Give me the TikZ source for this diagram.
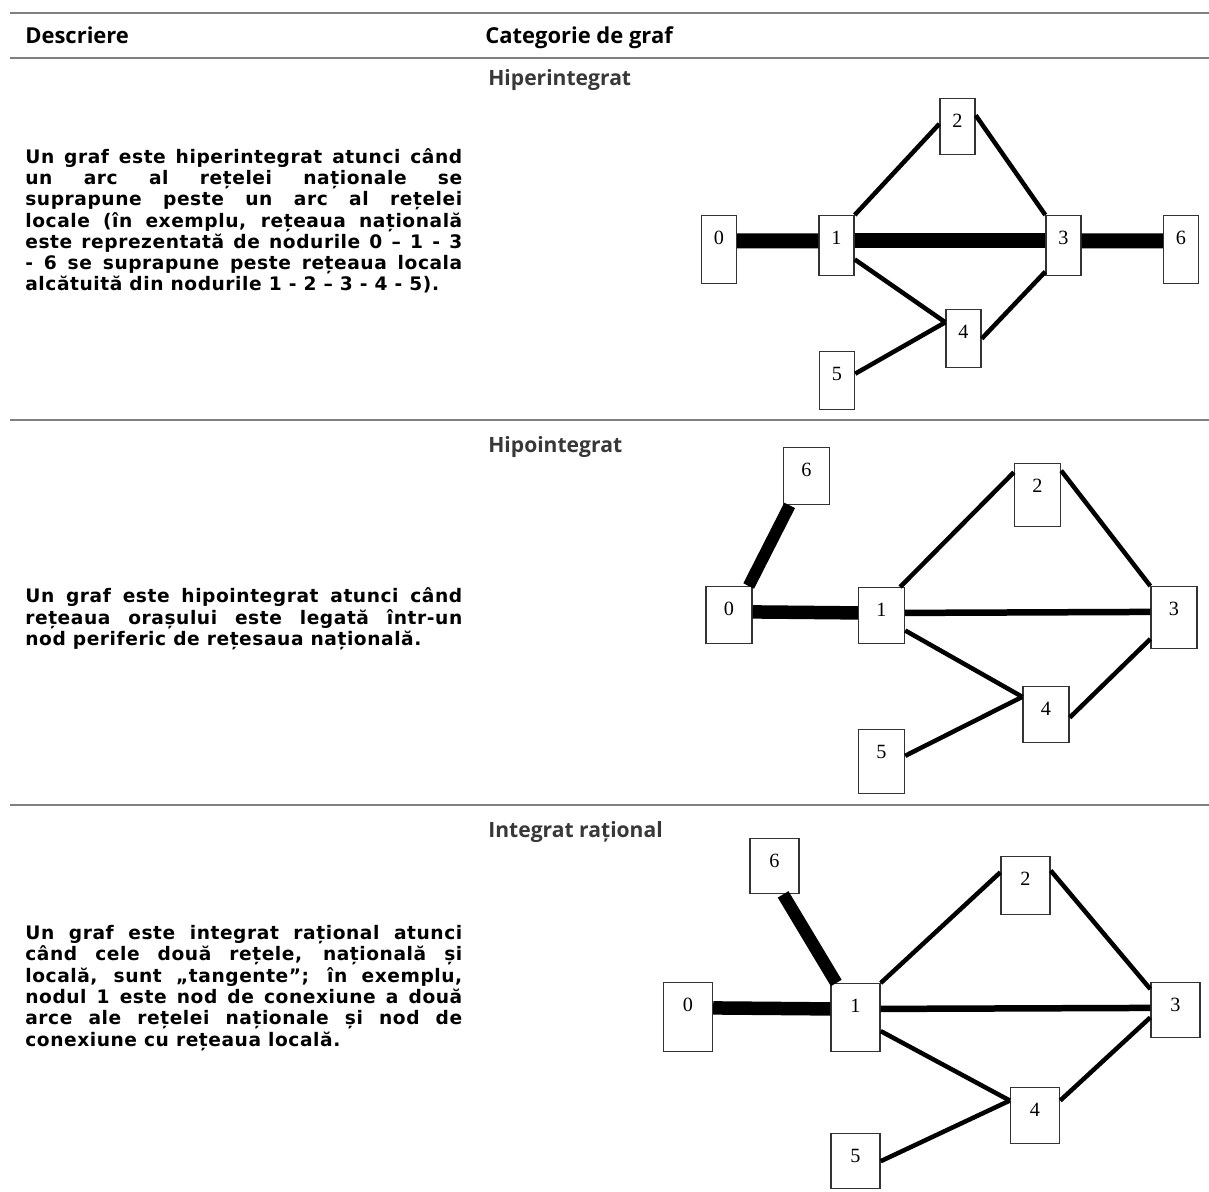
\documentclass[tikz,border=0pt]{standalone}
\usepackage{fontspec}
\newfontfamily\descfont{DejaVu Sans}[LetterSpace=3.0]
\newfontfamily\headfont{Open Sans}
\newfontfamily\numfont{Liberation Serif}
\tolerance=9999

\tikzset{
  rule/.style={draw=black!50, line width=0.055cm},
  colhead/.style={font=\headfont\bfseries\fontsize{12.5}{15}\selectfont, anchor=base west, inner sep=0pt},
  cattitle/.style={font=\headfont\bfseries\fontsize{12}{14}\selectfont, text=black!78, anchor=base west, inner sep=0pt},
  desc/.style={font=\descfont\bfseries\fontsize{10.6}{12.1}\selectfont, text width=8.74cm, align=justify, anchor=west, inner sep=0pt},
  vbox/.style={draw=black!80, line width=0.8pt, fill=white, inner sep=0pt, anchor=north, text height=0.58cm, font=\numfont\fontsize{11.5}{13}\selectfont},
  arcloc/.style={line width=0.09cm},
  arcmid/.style={line width=0.13cm},
  arcnat/.style={line width=0.27cm},
}

\begin{document}
\begin{tikzpicture}[x=0.02cm, y=-0.02cm]
    \useasboundingbox (0,0) rectangle (1209,1192);

    % Table rules
    \draw[rule] (10,13) -- (1209,13);
    \draw[rule] (10,58) -- (1209,58);
    \draw[rule] (10,420) -- (1209,420);
    \draw[rule] (10,805) -- (1209,805);

    % Column heads
    \node[colhead] (hdesc) at (25,44) {Descriere};
    \node[colhead] (hcat) at (485,44) {Categorie de graf};

    % Descriptions
    \node[desc] (d1) at (25,221) {Un graf este hiperintegrat atunci când\linebreak
      un arc al rețelei naționale se\linebreak
      suprapune peste un arc al rețelei\linebreak
      locale (în exemplu, rețeaua națională\linebreak
      este reprezentată de nodurile 0 – 1 - 3\linebreak
      - 6 se suprapune peste rețeaua locala\linebreak
      alcătuită din nodurile 1 - 2 – 3 - 4 - 5).};
    \node[desc] (d2) at (25,619) {Un graf este hipointegrat atunci când\linebreak
      rețeaua orașului este legată într-un\linebreak
      nod periferic de rețesaua națională.};
    \node[desc] (d3) at (25,988) {Un graf este integrat rațional atunci\linebreak
      când cele două rețele, națională și\linebreak
      locală, sunt „tangente”; în exemplu,\linebreak
      nodul 1 este nod de conexiune a două\linebreak
      arce ale rețelei naționale și nod de\linebreak
      conexiune cu rețeaua locală.};

    % Category titles
    \node[cattitle] (t1) at (488,86) {Hiperintegrat};
    \node[cattitle] (t2) at (488,452) {Hipointegrat};
    \node[cattitle] (t3) at (488,837) {Integrat rațional};

    % Graph 1: hiperintegrat
    \node[vbox, minimum width=0.7cm, text depth=0.78cm] (g1n0) at (719,215) {0};
    \node[vbox, minimum width=0.7cm, text depth=0.62cm] (g1n1) at (836.5,215) {1};
    \node[vbox, minimum width=0.7cm, text depth=0.54cm] (g1n2) at (957.5,98) {2};
    \node[vbox, minimum width=0.7cm, text depth=0.62cm] (g1n3) at (1063.5,215) {3};
    \node[vbox, minimum width=0.7cm, text depth=0.58cm] (g1n4) at (963.5,309) {4};
    \node[vbox, minimum width=0.7cm, text depth=0.58cm] (g1n5) at (837,351) {5};
    \node[vbox, minimum width=0.7cm, text depth=0.78cm] (g1n6) at (1181,215) {6};
    \draw[arcnat, line width=0.3cm] (g1n0.mid east) -- (g1n1.mid west);
    \draw[arcnat, line width=0.3cm] (g1n1.mid east) -- (g1n3.mid west);
    \draw[arcnat, line width=0.3cm] (g1n3.mid east) -- (g1n6.mid west);
    \draw[arcloc] (g1n1.north east) -- (g1n2.mid west);
    \draw[arcloc] (g1n2.32) -- (g1n3.north west);
    \draw[arcloc] (g1n1.-37) -- (g1n4.138);
    \draw[arcloc] (g1n3.-125) -- (g1n4.east);
    \draw[arcloc] (g1n5.21) -- (g1n4.138);

    % Graph 2: hipointegrat
    \node[vbox, minimum width=0.92cm, text depth=0.56cm] (g2n6) at (806.5,447) {6};
    \node[vbox, minimum width=0.92cm, text depth=0.68cm] (g2n2) at (1037.5,463) {2};
    \node[vbox, minimum width=0.92cm, text depth=0.56cm] (g2n0) at (729,586) {0};
    \node[vbox, minimum width=0.92cm, text depth=0.54cm] (g2n1) at (881.5,587) {1};
    \node[vbox, minimum width=0.92cm, text depth=0.66cm] (g2n3) at (1174,586) {3};
    \node[vbox, minimum width=0.92cm, text depth=0.54cm] (g2n4) at (1046,686) {4};
    \node[vbox, minimum width=0.92cm, text depth=0.70cm] (g2n5) at (881.5,729) {5};
    \draw[arcnat, line width=0.24cm] (g2n6.-120) -- (g2n0.56);
    \draw[arcnat] (g2n0.mid east) -- (g2n1.mid west);
    \draw[arcmid] (g2n1.mid east) -- (g2n3.mid west);
    \draw[arcloc] (g2n1.57) -- (g2n2.136);
    \draw[arcloc] (g2n2.46) -- (g2n3.north west);
    \draw[arcloc] (g2n1.-32) -- (g2n4.143);
    \draw[arcloc] (g2n3.-138) -- (g2n4.-7);
    \draw[arcloc] (g2n5.14) -- (g2n4.143);

    % Graph 3: integrat rational
    \node[vbox, minimum width=0.98cm, text depth=0.52cm] (g3n6) at (774.5,838) {6};
    \node[vbox, minimum width=0.98cm, text depth=0.58cm] (g3n2) at (1025.5,856) {2};
    \node[vbox, minimum width=0.98cm, text depth=0.80cm] (g3n0) at (688,982) {0};
    \node[vbox, minimum width=0.98cm, text depth=0.78cm] (g3n1) at (855.5,983) {1};
    \node[vbox, minimum width=0.98cm, text depth=0.52cm] (g3n3) at (1175.5,982) {3};
    \node[vbox, minimum width=0.98cm, text depth=0.54cm] (g3n4) at (1035,1087) {4};
    \node[vbox, minimum width=0.98cm, text depth=0.52cm] (g3n5) at (855.5,1133) {5};
    \draw[arcnat, line width=0.25cm] (g3n6.-73) -- (g3n1.119);
    \draw[arcnat] (g3n0.mid east) -- (g3n1.mid west);
    \draw[arcmid] (g3n1.mid east) -- (g3n3.mid west);
    \draw[arcloc] (g3n1.north east) -- (g3n2.152);
    \draw[arcloc] (g3n2.31) -- (g3n3.140);
    \draw[arcloc] (g3n1.-28) -- (g3n4.149);
    \draw[arcloc] (g3n3.-164) -- (g3n4.31);
    \draw[arcloc] (g3n5.east) -- (g3n4.149);
\end{tikzpicture}
\end{document}
